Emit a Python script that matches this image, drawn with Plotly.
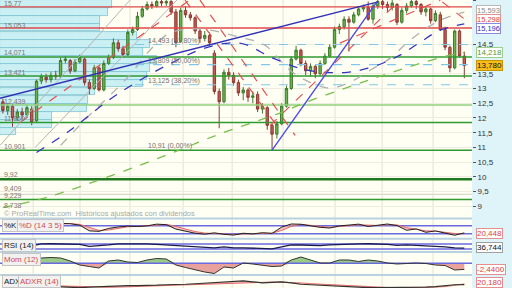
import plotly.graph_objects as go

# ---------------- DATA ----------------
opens = [12.55,12.25,12.40,12.00,12.20,12.10,12.30,11.90,13.25,13.40,13.30,13.45,13.40,13.95,13.95,13.60,13.90,14.00,13.20,13.00,
         13.70,12.95,13.85,14.05,14.55,14.35,14.15,14.90,15.00,15.45,15.70,15.85,15.80,15.95,15.90,15.95,15.60,14.60,15.65,15.50,
         15.40,14.95,14.70,14.80,14.20,12.90,12.55,13.55,13.45,13.20,12.85,12.95,12.70,12.80,12.30,12.35,11.75,11.45,11.80,12.40,
         13.00,14.00,14.30,13.85,13.60,13.75,13.50,13.85,14.10,14.40,15.00,15.10,15.35,15.25,15.50,15.70,15.75,15.35,15.80,15.95,
         15.85,15.75,15.85,15.25,15.65,15.80,15.95,15.85,15.60,15.70,15.30,15.50,15.00,14.40,13.70,14.95,14.10]
highs = [12.65,12.50,12.45,12.30,12.35,12.45,12.40,13.30,13.50,13.50,13.55,13.60,14.05,14.10,14.00,14.00,14.15,14.05,13.30,13.80,
         13.75,13.95,14.15,14.70,14.65,14.45,15.00,15.10,15.60,15.80,15.95,15.95,16.05,16.05,16.05,16.00,15.70,15.75,15.80,15.60,
         15.45,15.05,14.95,14.90,14.30,13.00,13.65,13.70,13.55,13.30,13.05,13.00,12.90,12.90,12.50,12.40,11.80,11.90,12.50,13.10,
         14.10,14.45,14.35,13.95,13.85,13.80,13.95,14.20,14.50,15.10,15.20,15.45,15.45,15.60,15.80,15.85,15.95,15.90,16.05,16.05,
         15.95,16.00,15.90,15.75,15.90,16.05,16.05,15.90,15.80,15.75,15.65,15.60,15.10,14.45,15.00,15.00,14.25]
lows = [12.15,12.10,11.70,11.90,11.95,12.00,11.75,11.85,13.15,13.20,13.20,13.30,13.35,13.85,13.50,13.55,13.85,13.10,12.80,12.95,
        12.90,12.90,13.80,14.00,14.25,14.05,14.10,14.80,14.95,15.40,15.65,15.70,15.75,15.80,15.80,15.50,14.40,14.55,15.40,15.30,
        14.85,14.55,14.60,14.45,12.80,11.65,12.50,13.30,13.10,12.75,12.60,12.55,12.50,12.20,12.15,11.60,10.91,11.30,11.75,12.35,
        12.95,13.95,13.75,13.45,13.40,13.35,13.45,13.80,14.05,14.35,14.85,15.00,14.25,15.20,15.45,15.60,15.30,15.20,15.70,15.70,
        15.60,15.65,15.15,15.20,15.55,15.75,15.70,15.50,15.45,15.20,15.25,14.95,14.30,13.55,13.65,14.05,13.35]
closes = [12.25,12.40,12.00,12.20,12.10,12.35,11.85,13.25,13.40,13.30,13.45,13.40,13.95,14.00,13.60,13.90,14.05,13.20,13.00,13.70,
          12.95,13.85,14.05,14.55,14.35,14.15,14.90,15.00,15.45,15.70,15.85,15.80,15.95,15.90,15.95,15.60,14.55,15.65,15.50,15.40,
          14.95,14.70,14.80,14.55,12.90,12.55,13.55,13.45,13.20,12.85,12.95,12.70,12.75,12.30,12.40,11.75,11.45,11.80,12.40,13.00,
          14.00,14.30,13.85,13.60,13.75,13.50,13.85,14.10,14.40,15.00,15.10,15.35,15.25,15.50,15.70,15.75,15.35,15.80,15.95,15.85,
          15.75,15.90,15.25,15.65,15.80,15.95,15.85,15.60,15.70,15.30,15.55,15.00,14.40,13.70,14.95,14.10,13.78]

# volume-by-price profile
profile_price = [15.87,15.60,15.33,15.06,14.78,14.51,14.24,13.97,13.70,13.43,13.16,12.89,12.61,12.34,12.07,11.80,11.53]
profile_len = [23.3,22.5,20.8,20.8,28.5,31.2,29.8,32.7,31.2,30.6,29.8,19.8,18.3,18.1,10.8,10.8,3.3]

# horizontal support / resistance levels
red_levels = [15.77, 15.053]
green_levels = [14.071, 13.421, 11.85, 10.901, 9.229]
light_green_levels = [12.439]
strong_green_levels = [9.92]
gray_levels = [9.409]
fib_levels = [14.493, 13.809, 13.125]

# moving averages (index, price)
ma_green_x = [0, 9, 21, 35, 45, 58, 63, 70, 76, 81, 87, 93, 96]
ma_green_y = [8.96, 9.30, 9.95, 10.80, 11.45, 12.19, 12.53, 12.94, 13.28, 13.55, 13.86, 14.13, 14.218]
ma_blue_x = [7, 14, 22, 28.5, 35, 42, 49.3, 56.2, 63.3, 71.6, 76, 79.5, 82.6, 86.8, 91, 96]
ma_blue_y = [10.83, 11.58, 12.60, 13.28, 13.86, 14.37, 14.54, 14.03, 13.62, 13.55, 13.69, 13.89, 14.13, 14.57, 14.98, 15.196]
ma_gray_x = [12, 18, 26, 30.6, 34.8, 41, 49.3, 54.5, 59.7, 63.9, 68.1, 72.2, 76.4, 80.6, 84.7, 91, 96]
ma_gray_y = [11.07, 12.09, 13.38, 14.30, 14.88, 15.02, 14.74, 14.47, 13.62, 13.21, 13.01, 13.21, 13.62, 14.03, 14.64, 15.32, 15.593]

# drawn trend lines: (x0, y0, x1, y1)
red_trends = [(3.6, 11.85, 38.9, 16.0), (37.9, 16.0, 57.7, 11.58), (41.0, 16.0, 60.8, 11.41),
              (55.6, 11.75, 82.6, 16.0), (70.1, 14.54, 91.0, 16.0), (91.4, 15.94, 96.5, 15.298)]
blue_trends = [(-0.6, 12.67, 78.05, 15.94), (56.0, 10.91, 77.8, 15.94)]
gray_trends = [(-0.6, 11.07, 26.45, 16.0), (6.7, 11.0, 36.2, 16.0)]

month_starts = [6.3, 16.05, 26.45, 37.5, 47.7, 58.3, 69.1, 78.9, 89.5]

# indicators
stoch_x = list(range(12, 97, 2))
stoch_k = [97,95,84,42,38,60,71,77,74,79,92,88,55,38,24,17,27,16,10,24,19,28,23,70,93,91,77,68,63,79,85,92,74,86,93,81,46,56,31,41,24,9,27]
stoch_d = [93,96,90,65,45,48,60,72,75,77,84,90,76,55,37,25,22,20,15,18,20,23,24,45,75,90,85,76,68,72,80,87,83,82,87,86,66,55,42,40,32,22,20.448]
ind_x = list(range(6, 97, 2))
rsi = [54,70,71,69,70,66,50,54,62,70,71,69,70,66,62,54,53,46,42,38,46,38,39,37,38,31,46,62,61,58,57,62,66,67,70,71,69,66,58,62,58,54,53,46,38,36.744]
mom = [-0.68,2.12,2.32,2.12,0.92,-0.68,-1.28,-1.88,0.92,1.32,0.52,0.32,1.32,1.92,1.72,-0.68,-1.68,-2.68,-3.48,-4.08,-1.48,-1.88,0.12,-0.28,
       -0.68,-1.28,-1.08,1.32,2.52,1.32,0.12,0.12,1.32,1.32,0.72,1.32,0.92,0.12,-0.28,-0.08,0.12,-0.08,-0.68,-0.88,-2.68,-2.44]
adx = [15.3,14,12.6,11.3,9.9,9.9,11.3,12.6,12.6,14,15.3,15.3,15.3,16.7,18,18,19.4,20.7,22,23.4,26.1,27.5,28.8,26.1,23.4,24.8,26.1,23.4,
       19.4,18,16.7,14,12.6,11.3,9.9,9.9,9.9,9.9,9.9,9.9,9.9,11.3,12.6,15.3,18,18.5]
adxr = [17,16,15,14,13,12,11.5,11.3,11,11.5,12.5,13.5,14,14.5,15,15.5,16.5,17.5,18.5,19.5,21,22.5,24,25,25.5,25.5,25,24.5,23,21,19.5,
        18.5,17.5,16,14,12.5,11.5,10.5,10,10,10,10.5,11.5,13,16,20.18]

price_ticks = [16, 14.5, 13.5, 13, 12.5, 12, 11.5, 11, 10.5, 10, 9.5, 9]

# ---------------- FIGURE ----------------
X0, X1 = -0.6, 97.6
H, PW = 288, 472
FONT = "Liberation Sans, Arial, sans-serif"

def ydom(top_px, bot_px):
    return [1 - bot_px / H, 1 - top_px / H]

def fmt(v):
    return ("%g" % v).replace(".", ",")

fig = go.Figure()

# volume profile
fig.add_trace(go.Bar(x=profile_len, y=profile_price, base=X0, orientation="h", width=0.25,
                     marker=dict(color="rgba(196,238,244,0.88)", line=dict(color="#7cc2cf", width=0.8)),
                     hoverinfo="skip", showlegend=False))

def hline(level, color, width, dash="solid", x0=X0, yaxis="y"):
    fig.add_trace(go.Scatter(x=[x0, X1], y=[level, level], mode="lines", yaxis=yaxis,
                             line=dict(color=color, width=width, dash=dash),
                             hoverinfo="skip", showlegend=False))

for lv in gray_levels:
    hline(lv, "#d8d8d0", 1.2)
for lv in fib_levels:
    hline(lv, "#7fc8ec", 1.1, "dash", x0=27.5)
for lv in red_levels:
    hline(lv, "#e04848", 1.3)
for lv in light_green_levels:
    hline(lv, "#8fd07c", 1.6)
for lv in green_levels:
    hline(lv, "#2f9a2f", 1.5)
for lv in strong_green_levels:
    hline(lv, "#1f7a1f", 2.6)

# trend lines
for (a, b, c, d) in gray_trends:
    fig.add_trace(go.Scatter(x=[a, c], y=[b, d], mode="lines", line=dict(color="#b4b4b4", width=1),
                             hoverinfo="skip", showlegend=False))

# moving averages
for xs, ys, col in [(ma_green_x, ma_green_y, "#78bf4a"), (ma_gray_x, ma_gray_y, "#b0b0b0"),
                    (ma_blue_x, ma_blue_y, "#3434c4")]:
    fig.add_trace(go.Scatter(x=xs, y=ys, mode="lines", line=dict(color=col, width=1.3, dash="dash", shape="spline"),
                             hoverinfo="skip", showlegend=False))

# candles
fig.add_trace(go.Candlestick(x=list(range(len(closes))), open=opens, high=highs, low=lows, close=closes,
                             increasing=dict(line=dict(color="#3d7a2e", width=1), fillcolor="#6cb54f"),
                             decreasing=dict(line=dict(color="#8c3a34", width=1), fillcolor="#c65a50"),
                             whiskerwidth=0, hoverinfo="skip", showlegend=False))

for (a, b, c, d) in red_trends:
    fig.add_trace(go.Scatter(x=[a, c], y=[b, d], mode="lines", line=dict(color="#e45050", width=1.2, dash="dash"),
                             hoverinfo="skip", showlegend=False))
for k, (a, b, c, d) in enumerate(blue_trends):
    fig.add_trace(go.Scatter(x=[a, c], y=[b, d], mode="lines",
                             line=dict(color="#3232b8" if k == 0 else "#4a4ae8", width=1.4),
                             hoverinfo="skip", showlegend=False))

# ---- stochastic ----
hline(80, "#6a6ae0", 1.5, yaxis="y2")
hline(20, "#6a6ae0", 1.5, yaxis="y2")
fig.add_trace(go.Scatter(x=stoch_x, y=stoch_d, yaxis="y2", mode="lines", line=dict(color="#e06a6a", width=1),
                         hoverinfo="skip", showlegend=False))
fig.add_trace(go.Scatter(x=stoch_x, y=stoch_k, yaxis="y2", mode="lines", line=dict(color="#222", width=1),
                         fill="tonexty", fillcolor="rgba(240,150,150,0.55)", hoverinfo="skip", showlegend=False))

# ---- RSI ----
hline(70, "#6a6ae0", 1.5, yaxis="y3")
hline(30, "#6a6ae0", 1.5, yaxis="y3")
fig.add_trace(go.Scatter(x=ind_x, y=rsi, yaxis="y3", mode="lines", line=dict(color="#1a1a50", width=1.3),
                         hoverinfo="skip", showlegend=False))

# ---- Momentum ----
mom_pos = [max(v, 0) for v in mom]
mom_neg = [min(v, 0) for v in mom]
fig.add_trace(go.Scatter(x=ind_x, y=mom_pos, yaxis="y4", mode="lines", line=dict(width=0),
                         fill="tozeroy", fillcolor="rgba(120,185,100,0.75)", hoverinfo="skip", showlegend=False))
fig.add_trace(go.Scatter(x=ind_x, y=mom_neg, yaxis="y4", mode="lines", line=dict(width=0),
                         fill="tozeroy", fillcolor="rgba(225,130,125,0.75)", hoverinfo="skip", showlegend=False))
hline(0, "#6a6ae0", 1.5, yaxis="y4")
fig.add_trace(go.Scatter(x=ind_x, y=mom, yaxis="y4", mode="lines", line=dict(color="#333", width=1),
                         hoverinfo="skip", showlegend=False))

# ---- ADX ----
fig.add_trace(go.Scatter(x=ind_x, y=adxr, yaxis="y5", mode="lines", line=dict(color="#e06a6a", width=1),
                         hoverinfo="skip", showlegend=False))
fig.add_trace(go.Scatter(x=ind_x, y=adx, yaxis="y5", mode="lines", line=dict(color="#333", width=1.2),
                         fill="tonexty", fillcolor="rgba(240,150,150,0.55)", hoverinfo="skip", showlegend=False))

# ---- shapes: vertical grid, panel separators ----
shapes = []
for m in month_starts:
    shapes.append(dict(type="line", xref="x", yref="paper", x0=m, x1=m, y0=0, y1=1,
                       line=dict(color="#e2e2d6", width=1), layer="below"))
for ypx in [218.5, 238.8, 252.0, 275.0]:
    shapes.append(dict(type="line", xref="paper", yref="paper", x0=0, x1=1, y0=1 - ypx / H, y1=1 - ypx / H,
                       line=dict(color="#b9d2e2", width=2)))

# ---- annotations ----
ann = []
def txt(s, xpx, ypx, color="#777", size=7, **kw):
    d = dict(text=s, xref="paper", yref="paper", x=xpx / PW, y=1 - ypx / H, xanchor="left", yanchor="middle",
             showarrow=False, font=dict(family=FONT, size=size, color=color))
    d.update(kw)
    ann.append(d)

for s, ypx in [("15,77", 4), ("15,053", 25), ("14,071", 52.5), ("13,421", 72), ("12,439", 101), ("11,850", 118),
               ("10,901", 146), ("9,92", 174), ("9,409", 188), ("9,229", 195), ("8,738", 205)]:
    txt(s, 2, ypx)
for s, xpx, ypx in [("14,493 (61,80%)", 146, 41), ("13,809 (50,00%)", 146, 61), ("13,125 (38,20%)", 146, 81),
                    ("10,91 (0,00%)", 146, 146)]:
    txt(s, xpx, ypx, color="#707070")
txt("© ProRealTime.com  Históricos ajustados con dividendos", 2, 213.5, color="#a8a8a8", size=7.5)

box = dict(bgcolor="#f1f1f1", bordercolor="#c4c4c4", borderwidth=1, borderpad=1)
txt("%K", 2, 225.5, color="#222", size=8, **box)
txt("%D (14 3 5)", 17, 225.5, color="#d84a4a", size=8, **box)
txt("RSI (14)", 2, 245, color="#222", size=8, **box)
txt("Mom (12)", 2, 259, color="#d84a4a", size=8, **box)
txt("ADX", 2, 281.5, color="#222", size=8, **box)
txt("ADXR (14)", 18, 281.5, color="#d84a4a", size=8, **box)

# right-side value badges
def badge(s, ypx, color, border, bg="#ffffff", size=8):
    txt(s, 476, ypx, color=color, size=size, bgcolor=bg, bordercolor=border, borderwidth=1, borderpad=0)

badge("15,593", 10.5, "#8a8a8a", "#b8b8b8", size=7.5)
badge("15,298", 19.5, "#e04040", "#e59090", size=7.5)
badge("15,196", 28.5, "#2a2ac8", "#8a8ae0", size=7.5)
badge("14,218", 52.5, "#4c9a3a", "#9ccf8c")
badge("13,780", 65.5, "#111111", "#c89400", bg="#f7bd1a")
badge("20,448", 233, "#e04040", "#e59090")
badge("36,744", 247, "#111111", "#a0a0a0")
badge("-2,4400", 269, "#e04040", "#e59090")
badge("20,180", 282, "#e04040", "#e59090")

fig.update_layout(
    width=512, height=288, margin=dict(l=0, r=40, t=0, b=0),
    paper_bgcolor="#dff4f8", plot_bgcolor="#fffff3", showlegend=False,
    font=dict(family=FONT, size=8, color="#333"),
    xaxis=dict(range=[X0, X1], showticklabels=False, showgrid=False, zeroline=False,
               rangeslider=dict(visible=False), fixedrange=True, ticks=""),
    yaxis=dict(domain=ydom(0, 218.5), range=[8.588, 16.003], side="right", tickvals=price_ticks,
               ticktext=[fmt(v) for v in price_ticks], ticks="outside", ticklen=3, tickcolor="#555",
               showgrid=True, gridcolor="#ededdf", zeroline=False, tickfont=dict(size=8, color="#333"),
               fixedrange=True),
    yaxis2=dict(domain=ydom(218.5, 238.8), range=[-17.5, 134], anchor="x", side="right",
                showticklabels=False, showgrid=False, zeroline=False, fixedrange=True),
    yaxis3=dict(domain=ydom(238.8, 252.0), range=[6, 110], anchor="x", side="right",
                showticklabels=False, showgrid=False, zeroline=False, fixedrange=True),
    yaxis4=dict(domain=ydom(252.0, 275.0), range=[-4.68, 4.52], anchor="x", side="right",
                showticklabels=False, showgrid=False, zeroline=False, fixedrange=True),
    yaxis5=dict(domain=ydom(275.0, 288), range=[9, 45], anchor="x", side="right",
                showticklabels=False, showgrid=False, zeroline=False, fixedrange=True),
    shapes=shapes, annotations=ann, bargap=0,
)

fig.write_html("out.html")
